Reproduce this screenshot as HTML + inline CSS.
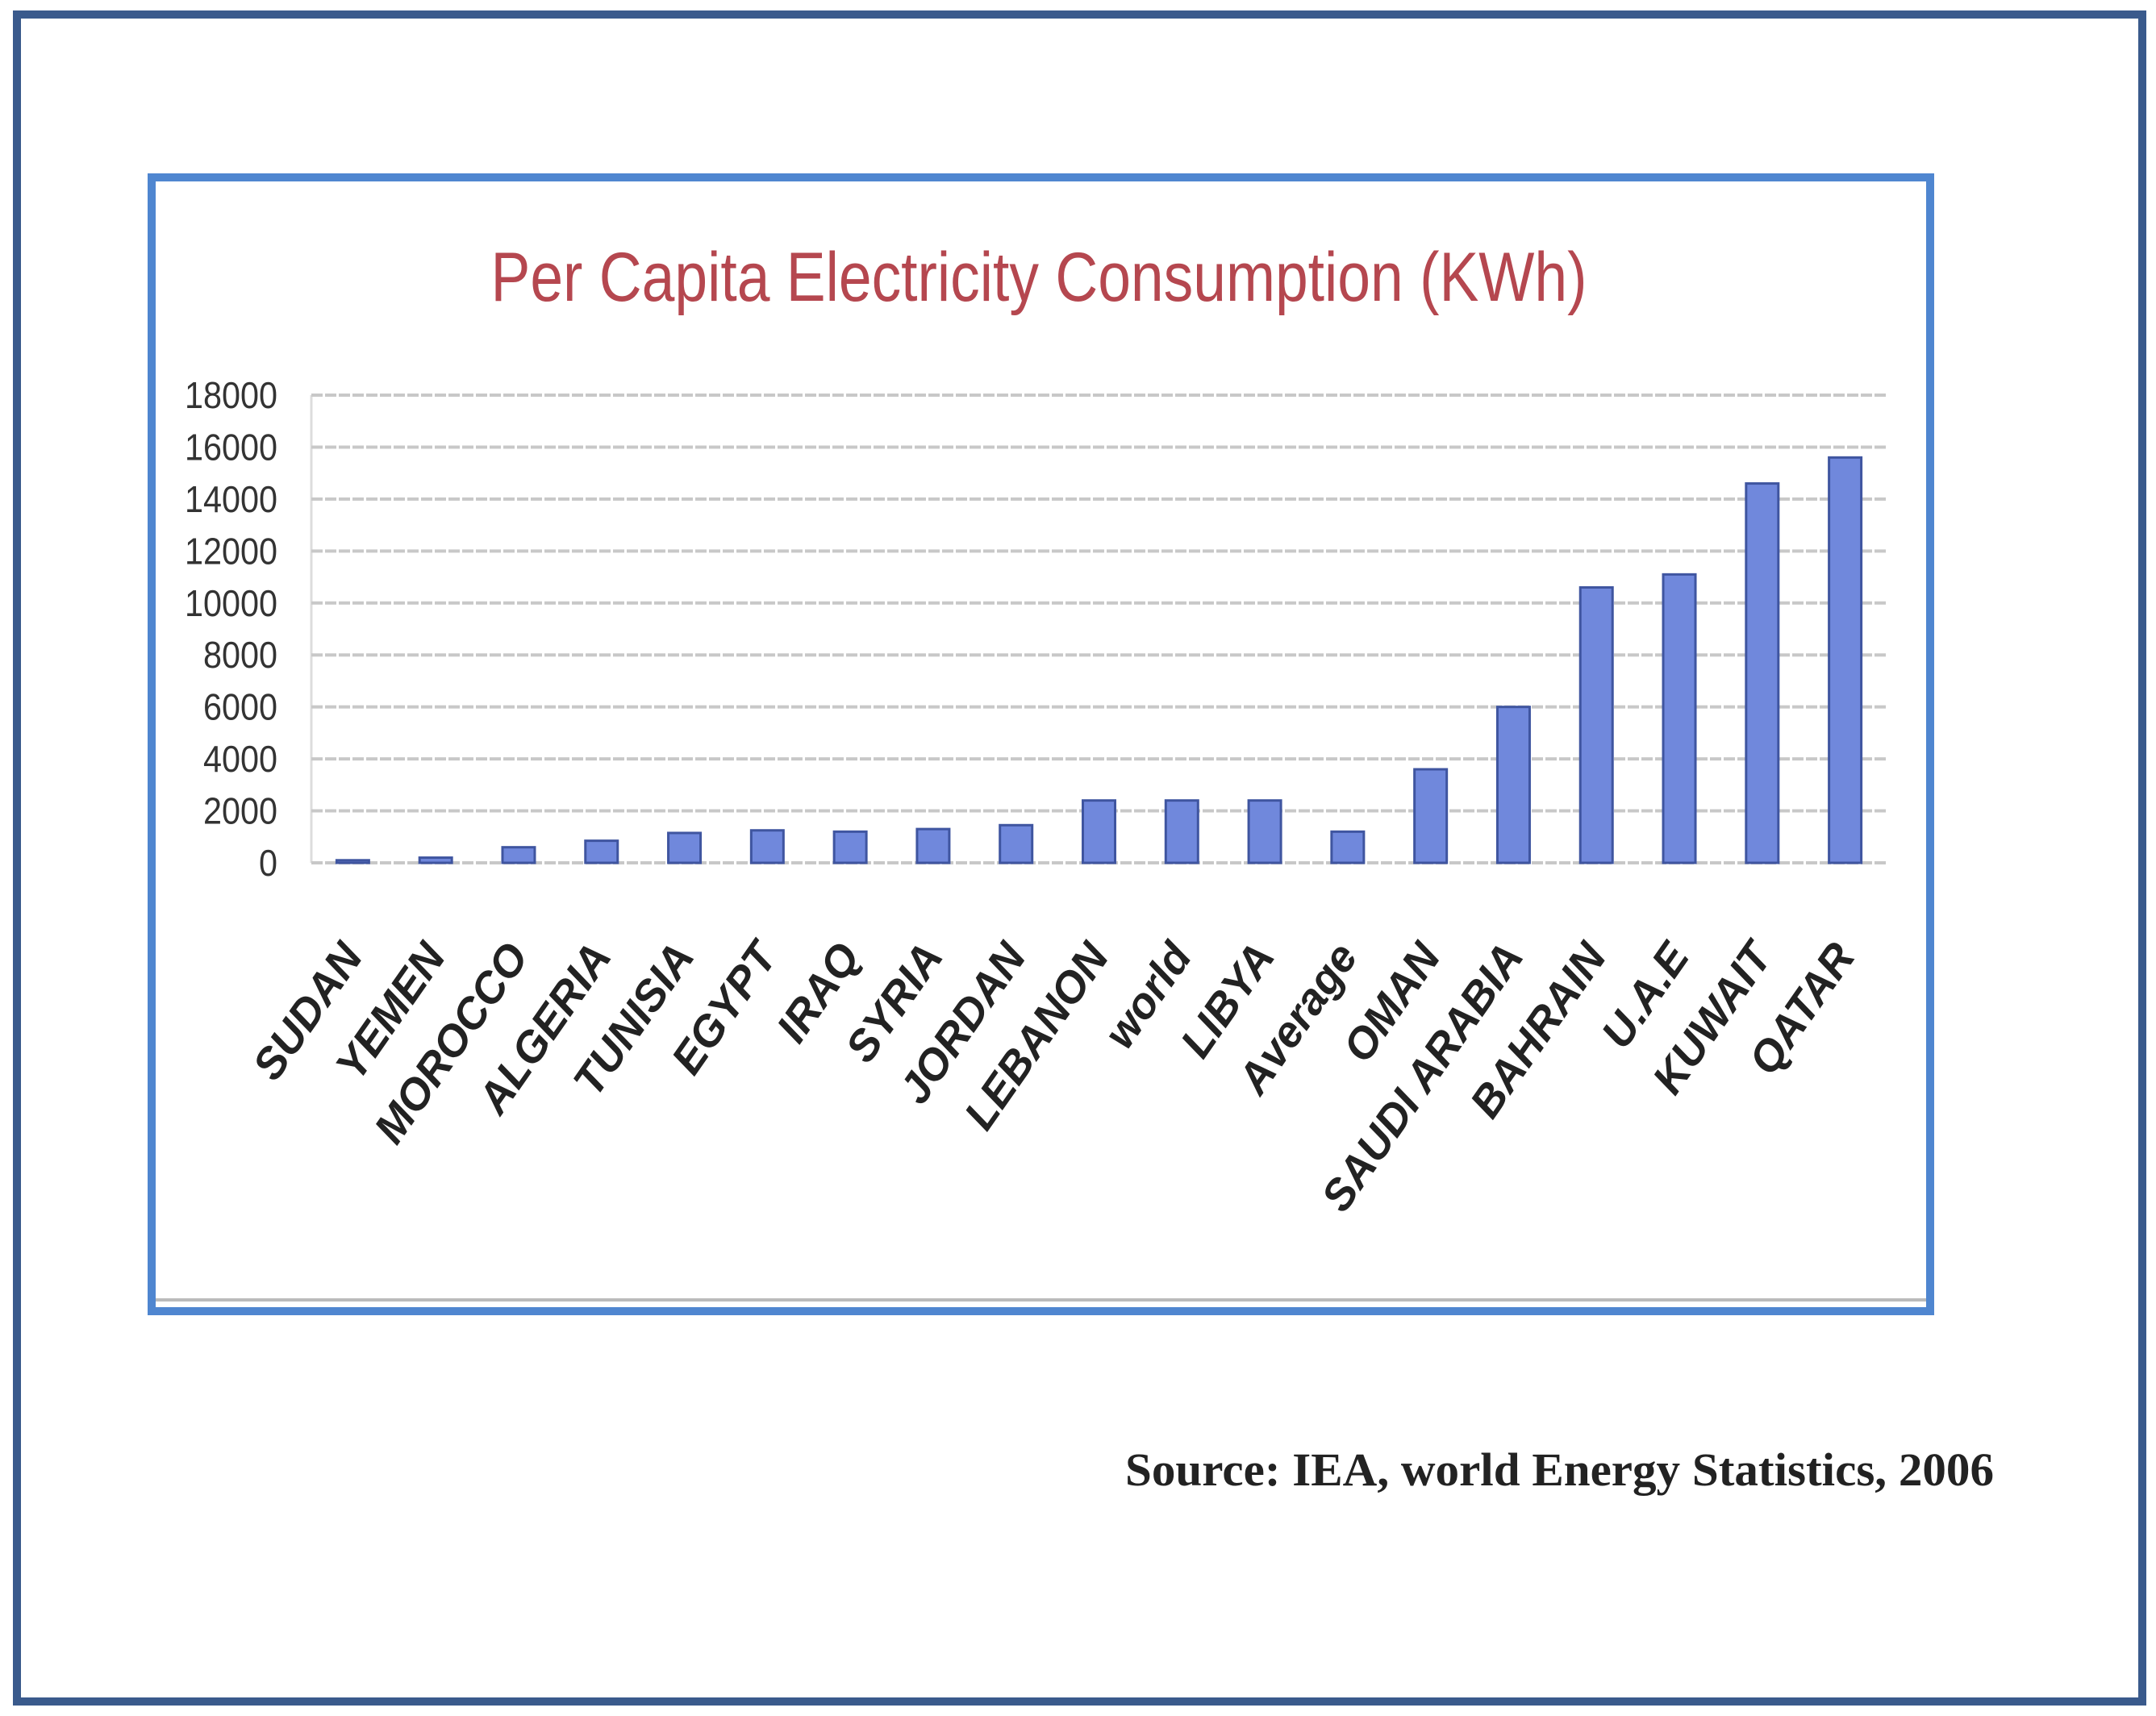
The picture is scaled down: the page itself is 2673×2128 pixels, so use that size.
<!DOCTYPE html>
<html><head><meta charset="utf-8"><style>
html,body{margin:0;padding:0;background:#fff;}
svg{display:block;}
</style></head><body>
<svg width="2673" height="2128" viewBox="0 0 2673 2128" xmlns="http://www.w3.org/2000/svg">
<rect x="0" y="0" width="2673" height="2128" fill="#fff"/>
<rect x="21" y="18" width="2635" height="2092" fill="none" stroke="#3a5a8c" stroke-width="10"/>
<line x1="192" y1="1612" x2="2390" y2="1612" stroke="#bbb" stroke-width="4"/>
<rect x="188" y="220" width="2205" height="1406" fill="none" stroke="#4f86d0" stroke-width="10"/>
<text x="1288" y="373" text-anchor="middle" font-family="Liberation Sans, sans-serif" font-size="86" fill="#b5474f" textLength="1359" lengthAdjust="spacingAndGlyphs">Per Capita Electricity Consumption (KWh)</text>
<g id="grid"></g>
<g id="bars"></g>
<g id="xlabels"></g>
<g id="ylabels"></g>
<text x="2472" y="1842" text-anchor="end" font-family="Liberation Serif, serif" font-weight="bold" font-size="58" fill="#222" textLength="1077" lengthAdjust="spacingAndGlyphs">Source: IEA, world Energy Statistics, 2006</text>
</svg>
<script>
const categories = ["SUDAN","YEMEN","MOROCCO","ALGERIA","TUNISIA","EGYPT","IRAQ","SYRIA","JORDAN","LEBANON","world","LIBYA","Average","OMAN","SAUDI ARABIA","BAHRAIN","U.A.E","KUWAIT","QATAR"];
const values = [100,200,600,850,1150,1250,1200,1300,1450,2400,2400,2400,1200,3600,6000,10600,11100,14600,15600];
const yTicks = [0,2000,4000,6000,8000,10000,12000,14000,16000,18000];

const NS = "http://www.w3.org/2000/svg";
const left = 386, right = 2339, y0 = 1070, y1 = 490, yMax = 18000;
const yScale = v => y0 - (v / yMax) * (y0 - y1);
const band = (right - left) / categories.length;
const xCenter = i => left + band * (i + 0.5);
const barW = 40;

function mk(tag, attrs) { const e = document.createElementNS(NS, tag); for (const k in attrs) e.setAttribute(k, attrs[k]); return e; }

const grid = document.getElementById('grid');
const yl = document.getElementById('ylabels');
grid.appendChild(mk('line', {x1: left, y1: y1, x2: left, y2: y0, stroke: '#ddd', 'stroke-width': 3}));
yTicks.forEach(t => {
  const y = yScale(t);
  const l = mk('line', {x1: left, y1: y, x2: right, y2: y, stroke: '#c8c8c8', 'stroke-width': 4, 'stroke-dasharray': '14 3'});
  
  
  grid.appendChild(l);
  const tx = mk('text', {x: 344, y: y + 16, 'text-anchor': 'end', 'font-family': 'Liberation Sans, sans-serif', 'font-size': 46, fill: '#333', textLength: String(t).length * 23, lengthAdjust: 'spacingAndGlyphs'});
  tx.textContent = t;
  
  
  yl.appendChild(tx);
});

const bars = document.getElementById('bars');
const xl = document.getElementById('xlabels');
categories.forEach((c, i) => {
  const cx = xCenter(i), top = yScale(values[i]);
  const r = mk('rect', {x: cx - barW / 2, y: top, width: barW, height: y0 - top, fill: '#7088dc', stroke: '#3f55a0', 'stroke-width': 3});
  
  
  bars.appendChild(r);
  const tx = mk('text', {x: 0, y: 0, 'text-anchor': 'end', 'font-family': 'Liberation Sans, sans-serif', 'font-size': 54, 'font-weight': 'bold', 'font-style': 'italic', fill: '#222', transform: 'translate(' + (cx + 14) + ',1186) rotate(-55)'});
  tx.textContent = c;
  
  
  xl.appendChild(tx);
});
</script>
</body></html>
